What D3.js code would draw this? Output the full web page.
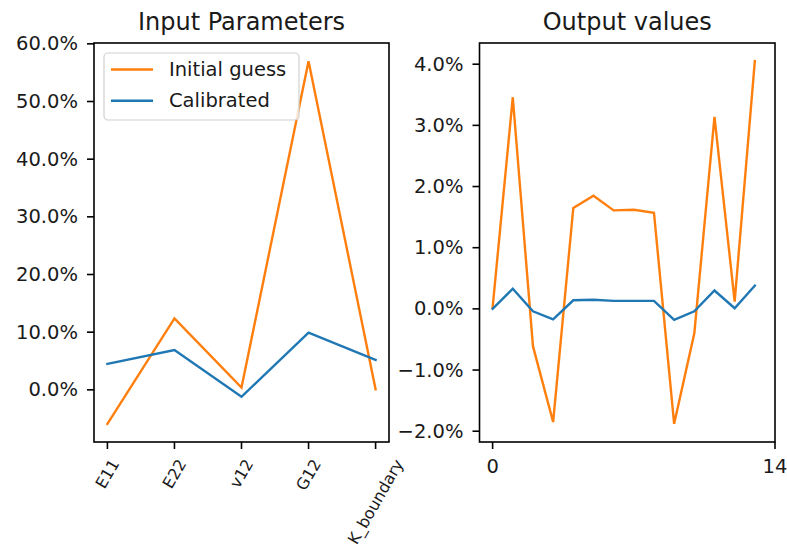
<!DOCTYPE html>
<html>
<head>
<meta charset="utf-8">
<script src="https://cdn.jsdelivr.net/npm/d3@7"></script>
<style>
  html, body { margin: 0; padding: 0; background: #fff; }
  svg { display: block; font-family: "DejaVu Sans", sans-serif; }
</style>
</head>
<body>
<svg id="chart" width="787" height="546"></svg>
<script>
// Input parameters (relative deviation per parameter)
const paramNames = ["E11", "E22", "v12", "G12", "K_boundary"];
const paramInitial = [-0.059, 0.124, 0.004, 0.570, 0.001];
const paramCalibrated = [0.045, 0.069, -0.012, 0.099, 0.052];
const paramYTicks = [0, 0.1, 0.2, 0.3, 0.4, 0.5, 0.6];

// Output values (relative error per output index)
const outputInitial = [0.0002, 0.0346, -0.0061, -0.0185, 0.0165, 0.0185, 0.0161,
                       0.0162, 0.0157, -0.0188, -0.0040, 0.0314, 0.0012, 0.0405];
const outputCalibrated = [0.0000, 0.0033, -0.0004, -0.0017, 0.0014, 0.0015, 0.0013,
                          0.0013, 0.0013, -0.0018, -0.0004, 0.0030, 0.0001, 0.0038];
const outputYTicks = [-0.02, -0.01, 0, 0.01, 0.02, 0.03, 0.04];
const outputXTicks = [0, 14];

const seriesNames = ["Initial guess", "Calibrated"];
const colors = ["#ff7f0e", "#1f77b4"];

const svg = d3.select("#chart");
const textColor = "#1a1a1a";
const tickFont = 19.5, titleFont = 24, rotFont = 16;
const tickLen = 7, tickPad = 7;

// padded extent, 5% each side
function padded(values) {
  const [lo, hi] = d3.extent(values);
  const p = (hi - lo) * 0.05;
  return [lo - p, hi + p];
}

function panel(box, title, xDomain, yDomain, yTicks, series) {
  const x = d3.scaleLinear().domain(xDomain).range([box.x0, box.x1]);
  const y = d3.scaleLinear().domain(yDomain).range([box.y1, box.y0]);
  const g = svg.append("g");

  // lines
  const line = d3.line().x((d, i) => x(i)).y(d => y(d));
  series.forEach((s, k) => {
    g.append("path").datum(s)
      .attr("d", line)
      .attr("fill", "none")
      .attr("stroke", colors[k])
      .attr("stroke-width", 2.4)
      .attr("stroke-linejoin", "miter")
      .attr("stroke-linecap", "square");
  });

  // frame
  g.append("rect")
    .attr("x", box.x0).attr("y", box.y0)
    .attr("width", box.x1 - box.x0).attr("height", box.y1 - box.y0)
    .attr("fill", "none").attr("stroke", "#000").attr("stroke-width", 1.6);

  // y axis ticks and labels
  const fmt = d3.format(".1%");
  yTicks.forEach(t => {
    const yy = y(t);
    g.append("line")
      .attr("x1", box.x0 - tickLen).attr("x2", box.x0)
      .attr("y1", yy).attr("y2", yy)
      .attr("stroke", "#000").attr("stroke-width", 1.6);
    g.append("text")
      .attr("x", box.x0 - tickLen - tickPad - 2)
      .attr("y", yy)
      .attr("text-anchor", "end")
      .attr("dominant-baseline", "central")
      .attr("font-size", tickFont)
      .attr("fill", textColor)
      .text(fmt(t));
  });

  // title
  g.append("text")
    .attr("x", (box.x0 + box.x1) / 2)
    .attr("y", box.y0 - 13.5)
    .attr("text-anchor", "middle")
    .attr("font-size", titleFont)
    .attr("fill", textColor)
    .text(title);

  return { g, x, y };
}

// ---- left panel: input parameters ----
const left = panel(
  { x0: 94, x1: 389, y0: 43, y1: 442 },
  "Input Parameters",
  [-0.2, paramNames.length - 1 + 0.2],
  padded(paramInitial.concat(paramCalibrated)),
  paramYTicks,
  [paramInitial, paramCalibrated]
);

paramNames.forEach((name, i) => {
  const xx = left.x(i);
  left.g.append("line")
    .attr("x1", xx).attr("x2", xx)
    .attr("y1", 442).attr("y2", 442 + tickLen)
    .attr("stroke", "#000").attr("stroke-width", 1.6);
  const t = left.g.append("text")
    .attr("text-anchor", "middle")
    .attr("dominant-baseline", "central")
    .attr("font-size", rotFont)
    .attr("fill", textColor)
    .text(name);
  const w = t.node().getComputedTextLength();
  const h = rotFont * 1.17;
  const a = Math.PI / 3;
  const H = w * Math.sin(a) + h * Math.cos(a);
  const cy = 442 + tickLen + tickPad + H / 2;
  t.attr("transform", `translate(${xx},${cy}) rotate(-60)`);
});

// legend
(function legend() {
  const lg = left.g.append("g");
  lg.append("rect")
    .attr("x", 104).attr("y", 53)
    .attr("width", 195).attr("height", 67)
    .attr("rx", 4).attr("ry", 4)
    .attr("fill", "#fff").attr("fill-opacity", 0.8)
    .attr("stroke", "#d0d0d0").attr("stroke-width", 1.2);
  seriesNames.forEach((name, k) => {
    const yy = 69.5 + k * 31.2;
    lg.append("line")
      .attr("x1", 111).attr("x2", 153)
      .attr("y1", yy).attr("y2", yy)
      .attr("stroke", colors[k]).attr("stroke-width", 2.4);
    lg.append("text")
      .attr("x", 169).attr("y", yy)
      .attr("dominant-baseline", "central")
      .attr("font-size", tickFont)
      .attr("fill", textColor)
      .text(name);
  });
})();

// ---- right panel: output values ----
const outX = padded([0, outputInitial.length - 1]);
outX[1] = Math.max(outX[1], d3.max(outputXTicks));
const right = panel(
  { x0: 479.5, x1: 775, y0: 43, y1: 442 },
  "Output values",
  outX,
  padded(outputInitial.concat(outputCalibrated)),
  outputYTicks,
  [outputInitial, outputCalibrated]
);

outputXTicks.forEach(v => {
  const xx = right.x(v);
  right.g.append("line")
    .attr("x1", xx).attr("x2", xx)
    .attr("y1", 442).attr("y2", 442 + tickLen)
    .attr("stroke", "#000").attr("stroke-width", 1.6);
  right.g.append("text")
    .attr("x", xx).attr("y", 442 + tickLen + tickPad + 17)
    .attr("text-anchor", "middle")
    .attr("font-size", tickFont)
    .attr("fill", textColor)
    .text(v);
});
</script>
</body>
</html>
